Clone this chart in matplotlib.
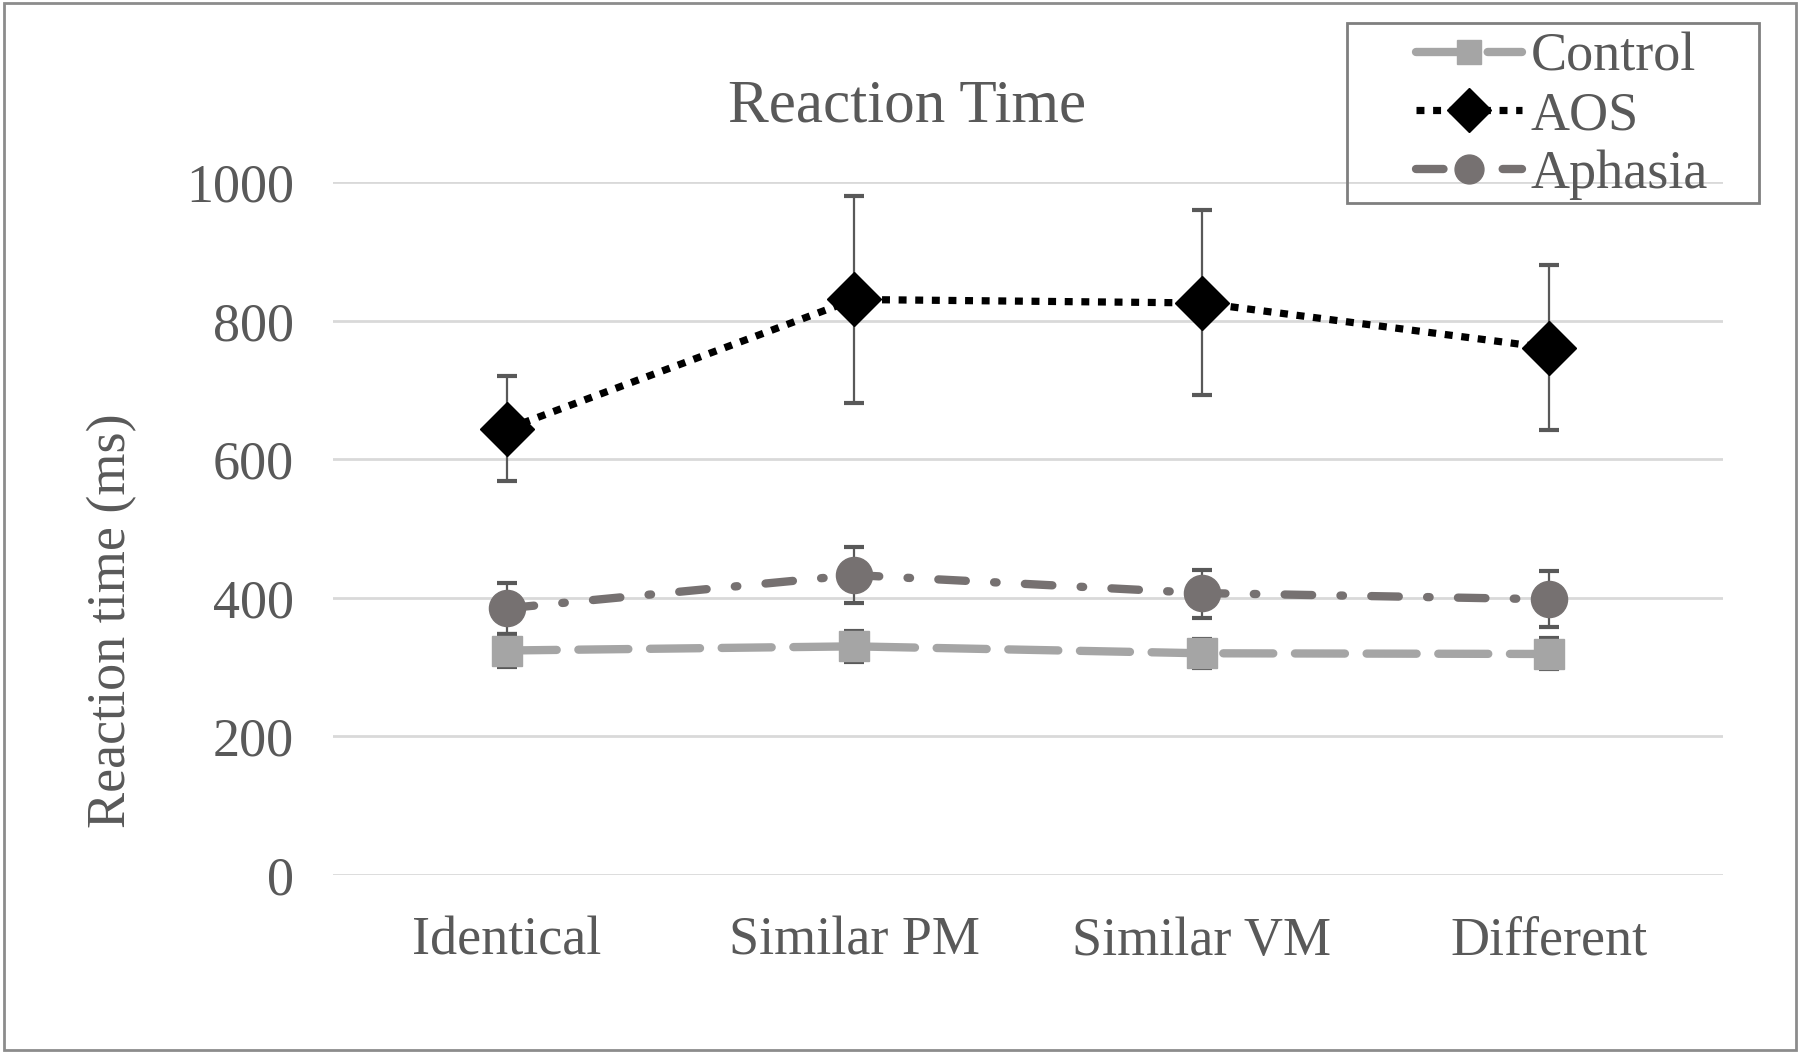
import matplotlib.pyplot as plt
from matplotlib.patches import Rectangle

categories = ["Identical", "Similar PM", "Similar VM", "Different"]

control = [324, 330, 320, 319]
control_lo = [300, 308, 299, 297]
control_hi = [348, 352, 341, 342]

aos = [644, 831, 826, 761]
aos_lo = [569, 682, 693, 642]
aos_hi = [721, 980, 960, 881]

aphasia = [385, 433, 407, 398]
aphasia_lo = [348, 392, 371, 358]
aphasia_hi = [422, 474, 440, 439]

yticks = [0, 200, 400, 600, 800, 1000]

plt.rcParams['font.family'] = ['Liberation Serif', 'DejaVu Serif']
txt = '#595959'

fig = plt.figure(figsize=(18, 10.53), dpi=100)
ax = fig.add_axes([0.185, 0.1692, 0.772, 0.6575])
x = list(range(len(categories)))

def err(v, lo, hi):
    return [[a - b for a, b in zip(v, lo)], [c - a for a, c in zip(v, hi)]]

ebkw = dict(ecolor='#595959', elinewidth=1.6, capsize=7, capthick=3, zorder=3)

ax.errorbar(x, control, yerr=err(control, control_lo, control_hi), fmt='none', **ebkw)
ax.errorbar(x, aphasia, yerr=err(aphasia, aphasia_lo, aphasia_hi), fmt='none', **ebkw)
ax.errorbar(x, aos, yerr=err(aos, aos_lo, aos_hi), fmt='none', **ebkw)

ax.plot(x, control, color='#A5A5A5', lw=6, dashes=(6, 2.6), marker='s', ms=22,
        label='Control', zorder=4, dash_capstyle='round')
ax.plot(x, aos, color='black', lw=5.2, dashes=(1.1, 1.2), marker='D', ms=28,
        label='AOS', zorder=5)
ax.plot(x, aphasia, color='#767171', lw=6, dashes=(3.3, 3.4, 0.3, 3.4), marker='o', ms=26,
        label='Aphasia', zorder=4, dash_capstyle='round')

ax.set_xlim(-0.5, 3.5)
ax.set_ylim(0, 1000)
ax.set_yticks(yticks)
ax.set_xticks(x)
ax.set_xticklabels(categories)
ax.grid(axis='y', color='#D9D9D9', lw=2)
ax.set_axisbelow(True)
for s in ax.spines.values():
    s.set_visible(False)
ax.tick_params(axis='both', length=0, labelsize=39, labelcolor=txt)
ax.tick_params(axis='y', pad=28)
ax.tick_params(axis='x', pad=30)

fig.text(0.504, 0.899, "Reaction Time", ha='center', va='center', fontsize=44, color=txt)
fig.text(0.062, 0.411, "Reaction time (ms)", ha='center', va='center', rotation=90,
         fontsize=39, color=txt)

# legend frame drawn separately to get Excel-like padding
fig.patches.append(Rectangle((1347 / 1800, 1 - 203 / 1053), 412 / 1800, 180 / 1053,
                             transform=fig.transFigure, fill=False,
                             edgecolor='#7F7F7F', lw=2, zorder=10))
fig.legend(loc='center left', bbox_to_anchor=(1416 / 1800, 1 - 116 / 1053), fontsize=39,
           frameon=False, labelcolor=txt, handlelength=1.95, labelspacing=0.15,
           borderpad=0, borderaxespad=0, handletextpad=0.17, markerscale=0.8)

fig.patches.append(Rectangle((0.002, 0.003), 0.996, 0.994, transform=fig.transFigure,
                             fill=False, edgecolor='#8C8C8C', lw=2))

fig.savefig("out.png", dpi=100)
